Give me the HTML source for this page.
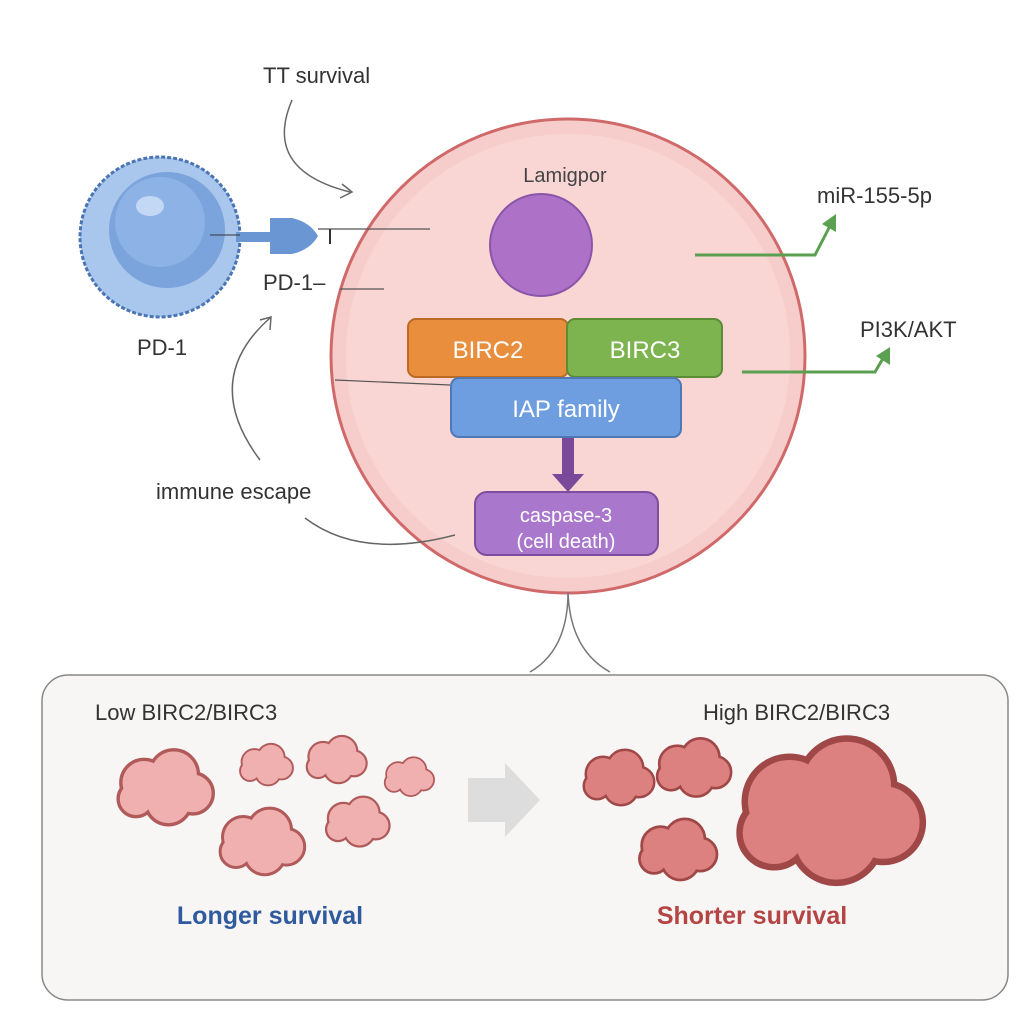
<!DOCTYPE html>
<html><head><meta charset="utf-8"><style>
body{margin:0;background:#fff;}
svg{display:block;font-family:"Liberation Sans",sans-serif;}
</style></head><body>
<svg width="1024" height="1024" viewBox="0 0 1024 1024">
<defs>
<g id="blob">
<circle cx="-14" cy="-4" r="16"/><circle cx="8" cy="-10" r="17"/><circle cx="22" cy="4" r="14"/><circle cx="4" cy="10" r="16"/><circle cx="-20" cy="8" r="12"/><circle cx="2" cy="0" r="16"/>
</g>
</defs>
<rect width="1024" height="1024" fill="#fff"/>
<circle cx="568" cy="356" r="237" fill="#f7cdcb" stroke="#d06a6a" stroke-width="3"/>
<circle cx="568" cy="356" r="222" fill="#f9d6d4"/>
<text x="565" y="182" font-size="20" fill="#444" text-anchor="middle">Lamigpor</text>
<circle cx="541" cy="245" r="51" fill="#ad72c8" stroke="#8a55a8" stroke-width="2"/>
<rect x="408" y="319" width="160" height="58" rx="8" fill="#e98e3d" stroke="#bb6a25" stroke-width="2"/>
<text x="488" y="358" font-size="24" fill="#fff" text-anchor="middle">BIRC2</text>
<rect x="567" y="319" width="155" height="58" rx="8" fill="#7db44f" stroke="#5b8d35" stroke-width="2"/>
<text x="645" y="358" font-size="24" fill="#fff" text-anchor="middle">BIRC3</text>
<rect x="451" y="378" width="230" height="59" rx="8" fill="#6e9ee0" stroke="#4f78b5" stroke-width="2"/>
<text x="566" y="417" font-size="24" fill="#fff" text-anchor="middle">IAP family</text>
<rect x="562" y="438" width="12" height="38" fill="#7a4a9a"/>
<polygon points="552,474 584,474 568,492" fill="#7a4a9a"/>
<rect x="475" y="492" width="183" height="63" rx="12" fill="#a978cc" stroke="#7d4e9e" stroke-width="2"/>
<text x="566" y="522" font-size="20" fill="#fff" text-anchor="middle">caspase-3</text>
<text x="566" y="548" font-size="20" fill="#fff" text-anchor="middle">(cell death)</text>
<circle cx="160" cy="237" r="80" fill="#a9c6ec" stroke="#4a75b5" stroke-width="3" stroke-dasharray="4 2"/>
<circle cx="167" cy="230" r="58" fill="#7ba4dc"/>
<circle cx="160" cy="222" r="45" fill="#8db2e6"/>
<ellipse cx="150" cy="206" rx="14" ry="10" fill="#c3d8f4"/>
<path d="M236,232 L270,232 L270,218 L292,218 Q310,222 318,236 Q310,250 292,254 L270,254 L270,242 L236,242 Z" fill="#6b96d4"/>
<line x1="210" y1="235" x2="240" y2="235" stroke="#333" stroke-width="1"/>
<line x1="318" y1="229" x2="430" y2="229" stroke="#555" stroke-width="1.2"/>
<line x1="330" y1="229" x2="330" y2="244" stroke="#333" stroke-width="2"/>
<text x="137" y="355" font-size="22" fill="#333">PD-1</text>
<text x="263" y="290" font-size="22" fill="#333">PD-1–</text>
<line x1="340" y1="289" x2="384" y2="289" stroke="#555" stroke-width="1.2"/>
<line x1="335" y1="380" x2="450" y2="385" stroke="#555" stroke-width="1.2"/>
<text x="263" y="83" font-size="22" fill="#333">TT survival</text>
<path d="M292,100 Q262,170 350,192" fill="none" stroke="#666" stroke-width="1.5"/>
<path d="M342,184 L352,192 L340,198" fill="none" stroke="#666" stroke-width="1.5"/>
<path d="M260,460 Q200,380 270,318" fill="none" stroke="#666" stroke-width="1.5"/>
<path d="M260,320 L271,317 L270,330" fill="none" stroke="#666" stroke-width="1.5"/>
<text x="156" y="499" font-size="22" fill="#333">immune escape</text>
<path d="M305,518 Q360,560 455,535" fill="none" stroke="#666" stroke-width="1.5"/>
<text x="817" y="203" font-size="22" fill="#333">miR-155-5p</text>
<path d="M695,255 L815,255 L832,222" fill="none" stroke="#5aa050" stroke-width="3"/>
<polygon points="822,224 836,214 836,232" fill="#5aa050"/>
<text x="860" y="337" font-size="22" fill="#333">PI3K/AKT</text>
<path d="M742,372 L875,372 L885,355" fill="none" stroke="#5aa050" stroke-width="3"/>
<polygon points="876,356 890,347 890,365" fill="#5aa050"/>
<path d="M568,592 Q568,650 530,672 M568,592 Q570,650 610,672" fill="none" stroke="#777" stroke-width="1.5"/>
<rect x="42" y="675" width="966" height="325" rx="26" fill="#f7f6f4" stroke="#888" stroke-width="1.5"/>
<text x="95" y="720" font-size="22" fill="#333">Low BIRC2/BIRC3</text>
<text x="703" y="720" font-size="22" fill="#333">High BIRC2/BIRC3</text>
<g id="low">
<use href="#blob" transform="translate(163,788) scale(1.35)"/>
<use href="#blob" transform="translate(265,765) scale(0.75)"/>
<use href="#blob" transform="translate(335,760) scale(0.85)"/>
<use href="#blob" transform="translate(408,777) scale(0.7)"/>
<use href="#blob" transform="translate(260,842) scale(1.2)"/>
<use href="#blob" transform="translate(356,822) scale(0.9)"/>
</g>
<g id="high">
<use href="#blob" transform="translate(617,778) scale(1.0)"/>
<use href="#blob" transform="translate(692,768) scale(1.05)"/>
<use href="#blob" transform="translate(676,850) scale(1.1)"/>
<use href="#blob" transform="translate(826,812) scale(2.6)"/>
</g>
<use href="#low" fill="#b05a5a" stroke="#b05a5a" stroke-width="5"/>
<use href="#low" fill="#f1b0b0"/>
<use href="#high" fill="#a04848" stroke="#a04848" stroke-width="5"/>
<use href="#high" fill="#dc8080"/>
<polygon points="468,778 505,778 505,763 540,800 505,837 505,822 468,822" fill="#ddd"/>
<text x="270" y="924" font-size="25" font-weight="bold" fill="#2f5a9e" text-anchor="middle">Longer survival</text>
<text x="752" y="924" font-size="25" font-weight="bold" fill="#b54545" text-anchor="middle">Shorter survival</text>
</svg>
</body></html>
